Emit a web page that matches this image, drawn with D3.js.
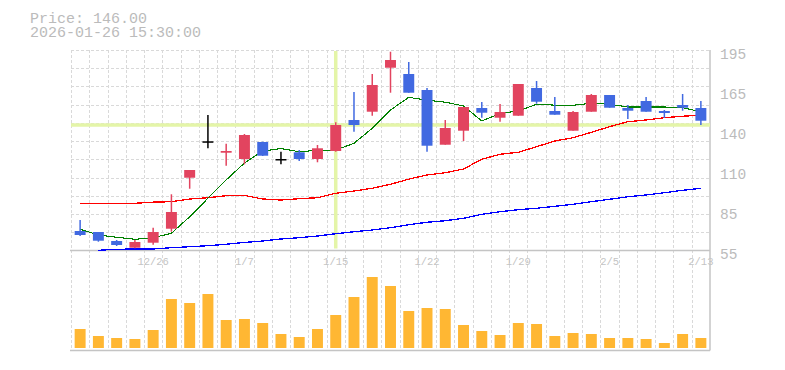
<!DOCTYPE html>
<html>
<head>
    <meta charset="utf-8">
    <title>candle chart</title>
    <style>
        * { margin: 0; padding: 0; }
        body { background: #fff; }
        svg text { font-family: "Liberation Mono", "DejaVu Sans Mono", monospace; fill: #bbb; }
    </style>
    <script src="https://cdn.jsdelivr.net/npm/d3@7/dist/d3.min.js"></script>
</head>
<body>
<div id="root"></div>
<script>
    var dates = ["12/22", "12/23", "12/24", "12/25", "12/26", "12/29", "12/30", "1/5", "1/6", "1/7",
        "1/8", "1/9", "1/13", "1/14", "1/15", "1/16", "1/19", "1/20", "1/21", "1/22",
        "1/23", "1/26", "1/27", "1/28", "1/29", "1/30", "2/2", "2/3", "2/4", "2/5",
        "2/6", "2/9", "2/10", "2/12", "2/13"];
    var open = [71.8, 71.1, 64.8, 60.1, 63.6, 73.4, 109.1, 134.6, 126.6, 122.2, 134.1, 122.2, 126.9, 122.2, 127.8,
        149.5, 155.3, 186.1, 181.7, 170.5, 132.2, 142.0, 157.9, 151.1, 152.5, 171.9, 155.8, 142.0, 155.3, 167.0,
        157.9, 162.8, 155.8, 160.0, 157.9];
    var high = [79.5, 71.1, 65.5, 65.5, 74.1, 97.5, 114.5, 153.0, 132.9, 139.7, 134.3, 127.3, 128.5, 132.0, 147.9,
        169.1, 181.7, 197.3, 190.1, 171.9, 149.5, 158.6, 162.1, 160.7, 174.7, 176.8, 165.6, 155.8, 167.7, 167.0,
        160.0, 165.6, 156.5, 167.7, 162.8];
    var low = [68.3, 64.3, 61.3, 59.7, 62.2, 71.3, 101.4, 129.7, 117.5, 118.5, 124.3, 118.5, 120.8, 119.9, 127.3,
        141.3, 152.5, 168.6, 168.6, 127.3, 132.2, 134.8, 151.1, 148.3, 152.5, 160.9, 153.2, 142.0, 155.3, 158.1,
        150.2, 155.3, 150.9, 156.0, 146.0];
    var close = [69.0, 65.0, 62.0, 64.1, 71.1, 85.1, 114.5, 134.6, 127.8, 139.0, 124.5, 122.2, 122.2, 129.7, 146.0,
        146.0, 174.0, 191.5, 168.6, 131.5, 143.9, 158.6, 154.6, 155.1, 174.7, 162.3, 153.2, 155.1, 167.0, 158.1,
        156.0, 155.3, 154.4, 158.1, 149.0];
    var volume = [190, 120, 100, 90, 180, 490, 450, 540, 280, 290, 250, 140, 110, 190, 330,
        510, 710, 620, 370, 400, 390, 230, 170, 130, 250, 240, 120, 150, 140, 100,
        100, 90, 50, 140, 100];
    var ma5 = [73.0, 69.0, 67.4, 66.0, 67.1, 70.2, 81.8, 94.7, 107.5, 119.4, 127.8, 129.5, 127.3, 128.3, 128.5,
        133.2, 143.7, 156.5, 165.4, 163.3, 162.0, 159.3, 148.8, 154.1, 155.8, 160.5, 159.9, 159.8, 161.2, 160.5,
        158.6, 158.6, 158.6, 158.1, 155.3];
    var ma25 = [91.2, 91.2, 91.2, 91.2, 92.0, 92.3, 94.2, 95.1, 96.5, 96.7, 94.2, 93.5, 94.4, 95.1, 98.2,
        99.8, 101.7, 104.5, 108.1, 111.0, 112.6, 115.2, 122.0, 125.5, 126.9, 130.8, 134.8, 137.1, 140.9, 144.8,
        148.3, 149.5, 151.1, 152.1, 153.0];
    var ma75 = [null, 58.3, 59.0, 59.2, 59.2, 60.1, 60.8, 61.5, 62.5, 63.8, 64.8, 66.2, 67.1, 68.3, 69.9,
        71.3, 72.5, 74.1, 76.2, 77.9, 79.0, 80.7, 83.5, 85.3, 86.7, 87.7, 89.1, 90.5, 92.3, 94.0,
        95.8, 97.0, 98.6, 100.3, 101.7];
    var xLabels = ["12/26", "1/7", "1/15", "1/22", "1/29", "2/5", "2/13"];
    var priceLabels = ["195", "165", "140", "110", "85", "55"];
    var cursorIndex = 14;
    var cursorPrice = 146.00;
    var cursorTime = "2026-01-26 15:30:00";

    render("#root");

    function render(root) {
        var width = 785, height = 370;
        var plotLeft = 71, plotRight = 710, plotTop = 50, plotBottom = 250.5;
        var volBottom = 350.5;

        var svg = d3.select(root).append("svg").attr("width", width).attr("height", height);

        var x = d3.scaleBand().domain(dates).range([plotLeft, plotRight]).paddingInner(0.4).paddingOuter(0.2);
        var y = d3.scaleLinear().domain([55, 195]).range([255, 55]);
        var yVol = d3.scaleLinear().domain([0, 800]).range([348, 268]);
        var cx = function (i) { return x(dates[i]) + x.bandwidth() / 2; };

        // grid
        var grid = svg.append("g").attr("stroke", "#d9d9d9").attr("stroke-dasharray", "3,2").attr("stroke-width", 1);
        var step = x.step();
        var rowH = (plotBottom - plotTop) / 11;
        grid.selectAll("line.v").data(d3.range(dates.length)).enter().append("line").attr("class", "v")
            .attr("x1", function (d) { return Math.round(plotLeft + d * step) + 0.5; })
            .attr("x2", function (d) { return Math.round(plotLeft + d * step) + 0.5; })
            .attr("y1", plotTop).attr("y2", volBottom);
        grid.selectAll("line.h").data(d3.range(11)).enter().append("line").attr("class", "h")
            .attr("x1", plotLeft).attr("x2", plotRight)
            .attr("y1", function (d) { return Math.round(plotTop + d * rowH) + 0.5; })
            .attr("y2", function (d) { return Math.round(plotTop + d * rowH) + 0.5; });

        // frame
        var frame = svg.append("g").attr("stroke", "#c4c4c4").attr("stroke-width", 1.5);
        frame.append("line").attr("x1", plotLeft - 1).attr("x2", plotRight).attr("y1", plotBottom).attr("y2", plotBottom);
        frame.append("line").attr("x1", plotLeft - 1).attr("x2", plotRight).attr("y1", volBottom).attr("y2", volBottom);
        frame.append("line").attr("x1", plotRight).attr("x2", plotRight).attr("y1", plotTop).attr("y2", volBottom);

        // crosshair
        svg.append("line").attr("x1", plotLeft).attr("x2", plotRight)
            .attr("y1", y(cursorPrice)).attr("y2", y(cursorPrice))
            .attr("stroke", "#e4f5a8").attr("stroke-width", 3.5);
        svg.append("line").attr("x1", cx(cursorIndex)).attr("x2", cx(cursorIndex))
            .attr("y1", plotTop + 1).attr("y2", plotBottom - 2)
            .attr("stroke", "#e4f5a8").attr("stroke-width", 3.5);

        // moving averages
        function renderLine(values, color, w) {
            var line = d3.line()
                .defined(function (d) { return d != null; })
                .x(function (d, i) { return cx(i); })
                .y(function (d) { return y(d); });
            svg.append("path").datum(values).attr("d", line)
                .attr("fill", "none").attr("stroke", color).attr("stroke-width", w)
                .attr("shape-rendering", "crispEdges");
        }
        renderLine(ma75, "#0000ff", 1.3);
        renderLine(ma25, "#ff0000", 1.3);
        renderLine(ma5, "#008000", 1.1);

        // candles
        function candleColor(i) {
            if (close[i] > open[i]) return "#e2445f";
            if (close[i] < open[i]) return "#4169e1";
            return "#000";
        }
        var candles = svg.append("g").selectAll("g").data(dates).enter().append("g");
        candles.append("line")
            .attr("x1", function (d, i) { return cx(i); })
            .attr("x2", function (d, i) { return cx(i); })
            .attr("y1", function (d, i) { return y(high[i]); })
            .attr("y2", function (d, i) { return y(low[i]); })
            .attr("stroke", function (d, i) { return candleColor(i); })
            .attr("stroke-width", 1.5);
        candles.append("rect")
            .attr("x", function (d) { return x(d); })
            .attr("width", x.bandwidth())
            .attr("y", function (d, i) { return y(Math.max(open[i], close[i])); })
            .attr("height", function (d, i) { return Math.max(1.5, Math.abs(y(open[i]) - y(close[i]))); })
            .attr("fill", function (d, i) { return candleColor(i); });

        // volume
        svg.append("g").selectAll("rect").data(dates).enter().append("rect")
            .attr("x", function (d) { return x(d); })
            .attr("width", x.bandwidth())
            .attr("y", function (d, i) { return yVol(volume[i]); })
            .attr("height", function (d, i) { return yVol(0) - yVol(volume[i]); })
            .attr("fill", "#ffb733");

        // axes
        var xAxis = d3.axisBottom(x).tickValues(xLabels).tickSize(0).tickPadding(0);
        var gx = svg.append("g").attr("transform", "translate(0,258)").call(xAxis);
        gx.select(".domain").remove();
        gx.selectAll("text").attr("font-size", 10.5).attr("font-family", null).style("fill", "#c4c4c4");

        var yLab = d3.scalePoint().domain(priceLabels).range([53.5, 253.5]);
        var yAxis = d3.axisRight(yLab).tickSize(0).tickPadding(0);
        var gy = svg.append("g").attr("transform", "translate(720,0)").call(yAxis);
        gy.select(".domain").remove();
        gy.selectAll("text").attr("font-size", 14.5).attr("font-family", null).style("fill", "#bbb");

        // info
        svg.append("text").attr("x", 30).attr("y", 23).attr("font-size", 15).text("Price: " + cursorPrice.toFixed(2));
        svg.append("text").attr("x", 30).attr("y", 36.5).attr("font-size", 15).text(cursorTime);
    }
</script>
</body>
</html>
